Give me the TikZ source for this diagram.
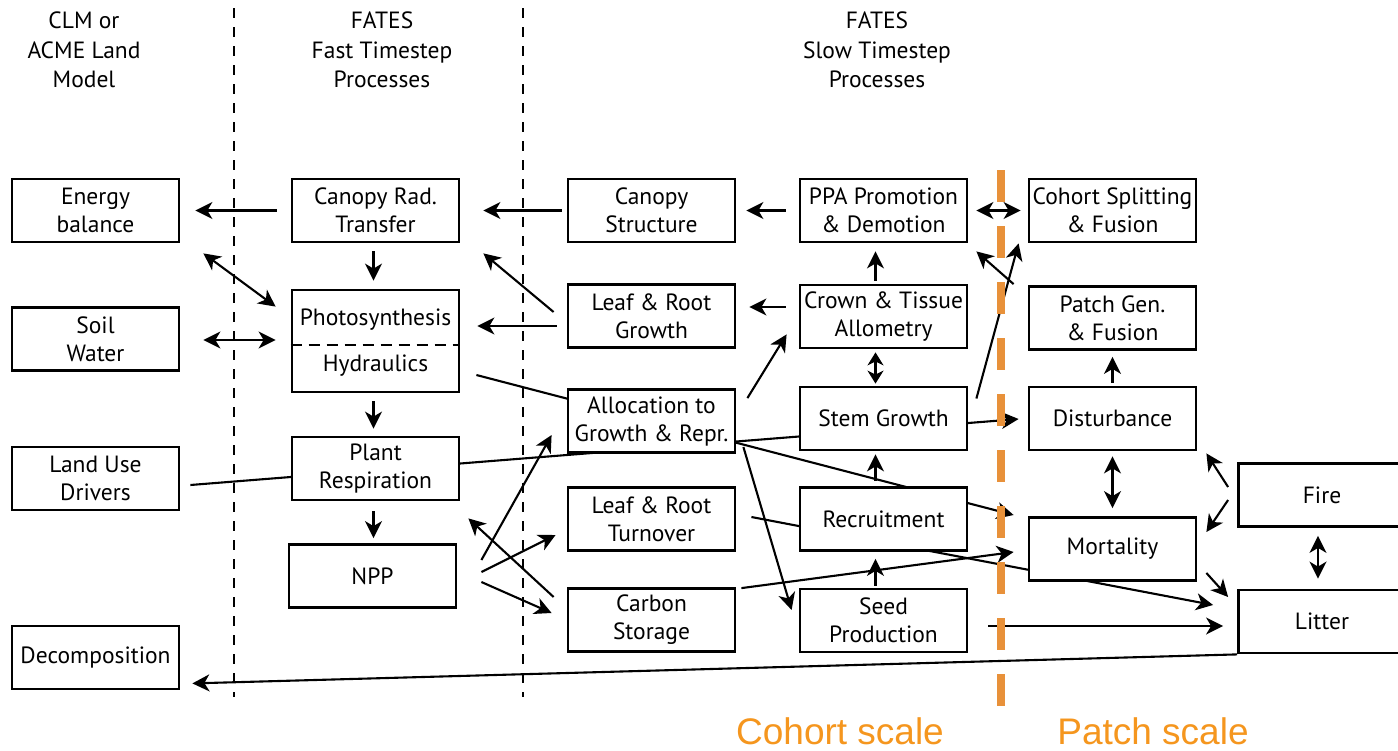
\documentclass[tikz,border=0pt]{standalone}
\usepackage{fontspec}
\setmainfont{PT Sans}
\newfontfamily\scalefont{Liberation Sans}
\usetikzlibrary{arrows.meta,calc}
\pgfdeclarelayer{bg}
\pgfsetlayers{bg,main}
\definecolor{scaleorange}{RGB}{245,150,30}
\definecolor{sepline}{RGB}{232,145,58}

\begin{document}
\begin{tikzpicture}[x=1pt,y=-1pt,
  box/.style={draw, line width=2.8pt, fill=white, minimum width=167pt,
    minimum height=63pt, align=center, inner sep=0pt,
    font=\fontsize{23.5}{28}\selectfont},
  head/.style={align=center, font=\fontsize{23.5}{29.5}\selectfont},
  arr/.style={line width=2.1pt, -{Stealth[length=17pt,width=17pt,inset=5pt]}},
  darr/.style={line width=2.1pt, {Stealth[length=17pt,width=17pt,inset=5pt]}-{Stealth[length=17pt,width=17pt,inset=5pt]}},
  sdarr/.style={line width=2.1pt, {Stealth[length=13pt,width=16pt,inset=4pt]}-{Stealth[length=13pt,width=16pt,inset=4pt]}},
  colsep/.style={line width=1.4pt, dash pattern=on 10pt off 9pt},
  scalesep/.style={line width=8pt, color=sepline, dash pattern=on 32pt off 24pt},
  scalelabel/.style={text=scaleorange, font=\scalefont\fontsize{37}{40}\selectfont}
]
\useasboundingbox (0,0) rectangle (1398,750);

% column headers
\node[head] (hclm)  at (84,50)  {CLM or\\ACME Land\\Model};
\node[head] (hfast) at (382,50) {FATES\\Fast Timestep\\Processes};
\node[head] (hslow) at (877,50) {FATES\\Slow Timestep\\Processes};

% host land model column
\node[box] (eb)     at (95.5,210.5) {Energy\\balance};
\node[box] (soil)   at (95.5,339)   {Soil\\Water};
\node[box] (land)   at (95.5,478.5) {Land Use\\Drivers};
\node[box] (decomp) at (95.5,657.5) {Decomposition};

% fast timestep processes
\node[box] (crt)   at (375.5,210.5) {Canopy Rad.\\Transfer};
\node[box, minimum height=102pt] (photo) at (375.5,341) {};
\node[font=\fontsize{23.5}{28}\selectfont] (phtxt)  at (375.5,320) {Photosynthesis};
\node[font=\fontsize{23.5}{28}\selectfont] (hydtxt) at (375.5,366) {Hydraulics};
\draw[line width=2.6pt, dash pattern=on 11pt off 7pt]
  ($(photo.west)+(0,4)$) -- ($(photo.east)+(0,4)$);
\node[box] (pr)    at (375.5,468.5) {Plant\\Respiration};
\node[box] (npp)   at (372.5,576)   {NPP};

% slow timestep processes, cohort scale
\node[box] (cstr)    at (651.5,210.5) {Canopy\\Structure};
\node[box] (lrg)     at (651.5,316)   {Leaf \& Root\\Growth};
\node[box] (alloc)   at (651.5,421)   {Allocation to\\Growth \& Repr.};
\node[box] (lrt)     at (651.5,519)   {Leaf \& Root\\Turnover};
\node[box] (cs)      at (651.5,620)   {Carbon\\Storage};
\node[box] (ppa)     at (883.5,210.5) {PPA Promotion\\\& Demotion};
\node[box] (crown)   at (883.5,316.5) {Crown \& Tissue\\Allometry};
\node[box] (stem)    at (883.5,418.5) {Stem Growth};
\node[box] (recruit) at (883.5,519)   {Recruitment};
\node[box] (seed)    at (883.5,620.5) {Seed\\Production};

% patch scale
\node[box] (cohort) at (1112.5,210.5) {Cohort Splitting\\\& Fusion};
\node[box] (pg)     at (1112.5,318)   {Patch Gen.\\\& Fusion};
\node[box] (dist)   at (1112.5,418.5) {Disturbance};
\node[box] (mort)   at (1112.5,549)   {Mortality};
\node[box] (fire)   at (1322,495)     {Fire};
\node[box] (litter) at (1322,621.5)   {Litter};

\begin{pgfonlayer}{bg}
\fill[white] (0,0) rectangle (1398,750);
% host model exchanges
\draw[arr]  ($(crt.west)+(-14,0)$) -- ($(eb.east)+(15,0)$);
\draw[darr] ($(eb.south east)+(23,10)$) -- ($(photo.north west)+(-15,18)$);
\draw[darr] ($(soil.east)+(23,1)$) -- ($(photo.west)+(-15,-1)$);
\draw[arr]  ($(land.east)+(10,6.5)$) -- ($(dist.west)+(-9,0.5)$);
\draw[arr]  (litter.south west) -- ($(decomp.south east)+(12,-7)$);
% fast processes
\draw[arr]  ($(crt.south)+(-2,8)$) -- ($(photo.north)+(-2,-8)$);
\draw[arr]  ($(photo.south)+(-2,8)$) -- ($(pr.north)+(-2,-7)$);
\draw[arr]  ($(pr.south)+(-2,10)$) -- ($(npp.north)+(1,-5)$);
\draw[arr]  ($(photo.east)+(16,34)$) -- ($(mort.west)+(-14,-34)$);
% NPP partitioning
\draw[arr]  ($(npp.east)+(24,-16)$) -- ($(alloc.west)+(-15,14)$);
\draw[arr]  ($(npp.east)+(24,-4)$) -- ($(lrt.west)+(-11,16)$);
\draw[arr]  ($(npp.east)+(24,6)$) -- ($(cs.west)+(-15,-7)$);
\draw[arr]  ($(cs.west)+(-13,-23)$) -- ($(pr.south east)+(8,17)$);
% canopy feedbacks
\draw[arr]  ($(cstr.west)+(-5,0)$) -- ($(crt.east)+(23,0)$);
\draw[arr]  ($(ppa.west)+(-13,0)$) -- ($(cstr.east)+(10,0)$);
\draw[arr]  ($(lrg.west)+(-13,-4)$) -- ($(crt.south east)+(23,10)$);
\draw[arr]  ($(lrg.west)+(-10,10)$) -- ($(photo.east)+(17,-15)$);
\draw[arr]  ($(crown.west)+(-13,-9.5)$) -- ($(lrg.east)+(13,-9)$);
% allocation
\draw[arr]  ($(alloc.north east)+(11,10)$) -- ($(crown.south west)+(-12,-15)$);
\draw[arr]  ($(alloc.east)+(7,26)$) -- ($(seed.west)+(-7,-10.5)$);
\draw[arr]  ($(lrt.east)+(15,-2)$) -- ($(litter.west)+(-24,-16.5)$);
\draw[arr]  ($(cs.north east)+(5,1)$) -- ($(mort.west)+(-14,3)$);
% cohort growth chain
\draw[arr]  ($(crown.north)+(-8,-3)$) -- ($(ppa.south)+(-8,8)$);
\draw[sdarr] ($(crown.south)+(-8,3)$) -- ($(stem.north)+(-8,-2)$);
\draw[arr]  ($(recruit.north)+(-8,-5)$) -- ($(stem.south)+(-8,3)$);
\draw[arr]  ($(seed.north)+(-8,-2)$) -- ($(recruit.south)+(-8,7)$);
\draw[arr]  ($(seed.east)+(20,5.5)$) -- ($(litter.west)+(-14,4.5)$);
% patch scale links
\draw[darr] ($(ppa.east)+(8,0)$) -- ($(cohort.west)+(-7,0)$);
\draw[arr]  ($(pg.north west)+(-14,-1)$) -- ($(ppa.south east)+(8,8)$);
\draw[arr]  ($(stem.east)+(8,-20)$) -- ($(cohort.south west)+(-9,0)$);
\draw[arr]  ($(dist.north)+(0,-3)$) -- ($(pg.south)+(0,6)$);
\draw[darr] ($(dist.south)+(0,5)$) -- ($(mort.north)+(0,-8)$);
\draw[arr]  ($(fire.west)+(-9,-8)$) -- ($(dist.south east)+(9,2)$);
\draw[arr]  ($(fire.west)+(-9,5)$) -- ($(mort.east)+(9,-17)$);
\draw[darr] ($(fire.south)+(-4,8)$) -- ($(litter.north)+(-4,-10)$);
\draw[arr]  ($(mort.east)+(9,24)$) -- ($(litter.west)+(-9,-24.5)$);
% column separators
\draw[colsep] (234,8) -- (234,697);
\draw[colsep] (523,8) -- (523,697);
\end{pgfonlayer}

% cohort / patch scale boundary
\draw[scalesep] (1001,170) -- (1001,706);
\node[scalelabel] (cohortlbl) at (840,731) {Cohort scale};
\node[scalelabel] (patchlbl)  at (1153,731) {Patch scale};
\end{tikzpicture}
\end{document}
